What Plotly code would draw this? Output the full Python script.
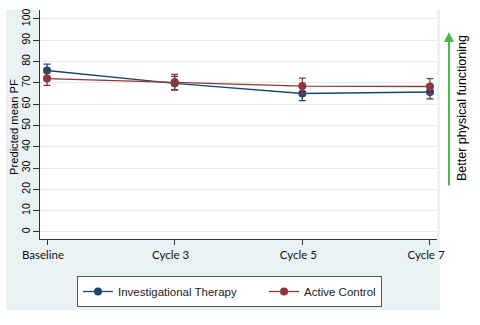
import plotly.graph_objects as go

categories = ["Baseline", "Cycle 3", "Cycle 5", "Cycle 7"]
x_pos = [0, 1, 2, 3]
inv_mean = [75.8, 69.8, 65.0, 65.7]
inv_err = [3.0, 3.2, 3.3, 3.2]
ctl_mean = [72.0, 70.4, 68.5, 68.3]
ctl_err = [3.2, 3.6, 3.7, 3.7]
y_ticks = [0, 10, 20, 30, 40, 50, 60, 70, 80, 90, 100]
series_names = ["Investigational Therapy", "Active Control"]

BLUE = "#1a476f"
RED = "#90353b"
BG = "#eaf2f3"
PAD = "\u00a0" * 7

fig = go.Figure()
fig.add_trace(go.Scatter(
    x=x_pos, y=inv_mean, mode="lines+markers", name=series_names[0] + PAD,
    line=dict(color=BLUE, width=1.3), marker=dict(color=BLUE, size=8),
    error_y=dict(type="data", array=inv_err, color=BLUE, thickness=1.2, width=3.5),
))
fig.add_trace(go.Scatter(
    x=x_pos, y=ctl_mean, mode="lines+markers", name=series_names[1],
    line=dict(color=RED, width=1.3), marker=dict(color=RED, size=8),
    error_y=dict(type="data", array=ctl_err, color=RED, thickness=1.2, width=3.5),
))

L, R, T, B = 40, 43, 10, 86
W, H = 480, 325
pw = W - L - R
ph = H - T - B

def px_x(p):
    return (p - L) / pw

def px_y(p):
    return (H - B - p) / ph

fig.add_shape(type="rect", xref="paper", yref="paper",
              x0=px_x(6), x1=px_x(440), y0=px_y(310), y1=px_y(10),
              fillcolor=BG, line=dict(width=0), layer="below")
fig.add_shape(type="rect", xref="paper", yref="paper",
              x0=0, x1=1, y0=0, y1=1,
              fillcolor="white", line=dict(width=0), layer="below")

fig.add_annotation(xref="paper", yref="paper", x=px_x(449), y=px_y(32),
                   ax=0, ay=155, axref="pixel", ayref="pixel",
                   showarrow=True, arrowhead=2, arrowsize=1, arrowwidth=2,
                   arrowcolor="#4cb848", text="")
fig.add_annotation(xref="paper", yref="paper", x=px_x(462), y=px_y(108),
                   xanchor="center", yanchor="middle",
                   text="Better physical functioning", textangle=-90,
                   showarrow=False, font=dict(family="Liberation Sans, Arial", size=12.5, color="black"))
fig.add_annotation(xref="paper", yref="paper", x=px_x(14), y=px_y(127),
                   xanchor="center", yanchor="middle",
                   text="Predicted mean PF", textangle=-90,
                   showarrow=False, font=dict(family="Liberation Sans, Arial", size=11.2, color="black"))

fig.update_layout(
    width=W, height=H,
    margin=dict(l=L, r=R, t=T, b=B, autoexpand=False),
    paper_bgcolor="white", plot_bgcolor="white",
    showlegend=True,
    legend=dict(orientation="h", x=px_x(77), y=px_y(276), xanchor="left", yanchor="top",
                bgcolor="white", bordercolor="#555555", borderwidth=1,
                font=dict(family="Liberation Sans, Arial", size=11.5, color="#222222"),
                tracegroupgap=0),
    xaxis=dict(tickvals=x_pos, ticktext=categories, range=[-0.055, 3.055],
               showgrid=False, zeroline=False, showline=True, linecolor="#333333", linewidth=1,
               ticks="outside", ticklen=5, tickcolor="#333333", ticklabelshift=-4,
               tickfont=dict(family="Lato", size=11.5, color="#111111")),
    yaxis=dict(tickvals=y_ticks, range=[-3.3, 104.2], tickangle=-90,
               showgrid=True, gridcolor="#e3ecee", gridwidth=1,
               zeroline=False, showline=True, linecolor="#333333", linewidth=1,
               ticks="outside", ticklen=6, tickcolor="#333333", ticklabelstandoff=-1,
               tickfont=dict(family="Liberation Sans, Arial", size=10.5, color="black")),
)

fig.write_html("out.html")
